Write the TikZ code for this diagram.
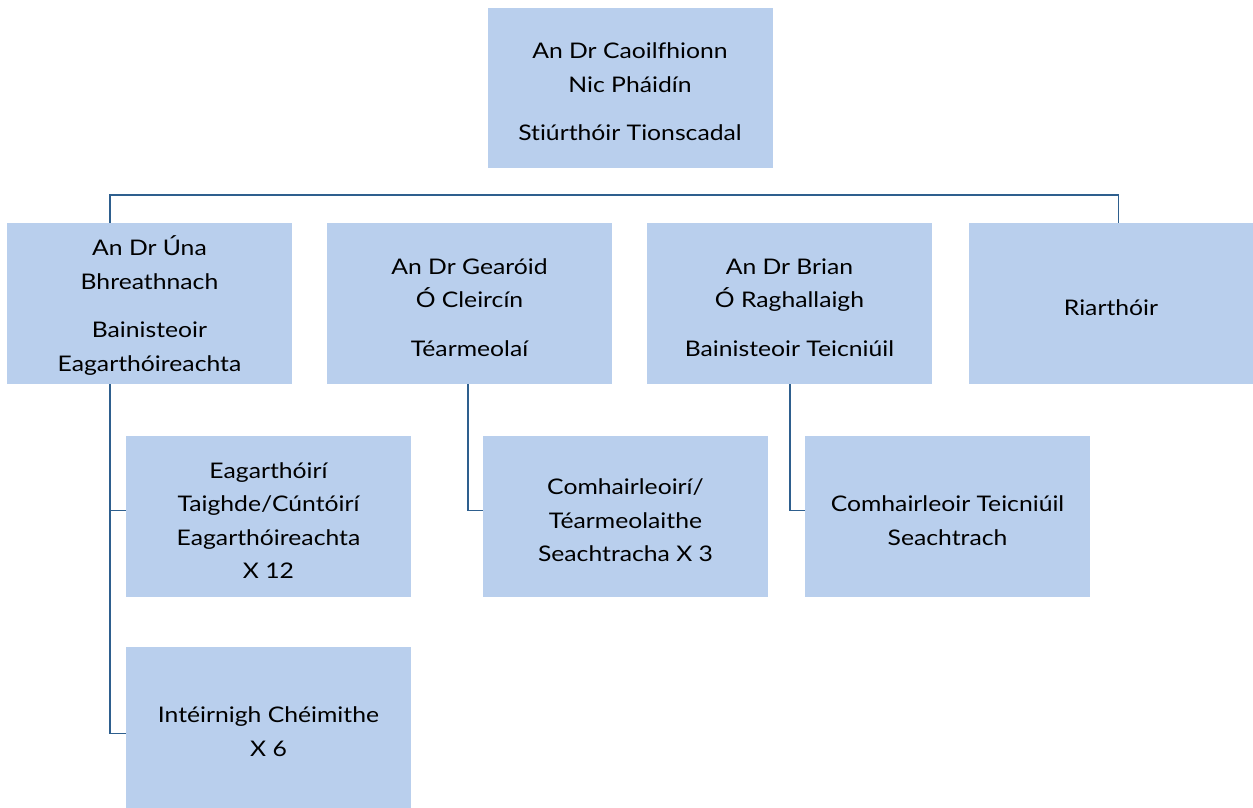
\documentclass[tikz,border=0pt]{standalone}
\usepackage{fontspec}
\setmainfont[FakeStretch=1.15,Ligatures=NoCommon]{Lato}
\usetikzlibrary{calc}
\definecolor{boxfill}{RGB}{185,207,237}
\definecolor{linecol}{RGB}{46,95,142}
\newcommand{\toprule}{\rule{0pt}{24pt}}
\begin{document}
\begin{tikzpicture}[x=1pt,y=-1pt,
  box/.style={fill=boxfill,draw=none,minimum width=285pt,minimum height=161pt,inner sep=0pt,align=center,
    font=\fontsize{21.5}{33.5}\selectfont,text=black},
  conn/.style={draw=linecol,line width=1.6pt}]
\useasboundingbox (0,0) rectangle (1253,807);
% top
\node[box,minimum height=160pt] (top) at (630,88) {\toprule An Dr Caoilfhionn\\Nic Pháidín\\[15pt]Stiúrthóir Tionscadal};
% row 2
\node[box] (b1) at (149.5,303.5) {\toprule An Dr Úna\\Bhreathnach\\[15pt]Bainisteoir\\Eagarthóireachta};
\node[box] (b2) at (469.5,303.5) {\toprule An Dr Gearóid\\Ó Cleircín\\[15pt]Téarmeolaí};
\node[box] (b3) at (789.5,303.5) {\toprule An Dr Brian\\Ó Raghallaigh\\[15pt]Bainisteoir Teicniúil};
\node[box] (b4) at (1111,303.5) {\toprule Riarthóir};
% row 3
\node[box] (c1) at (268.5,516.5) {\toprule Eagarthóirí\\Taighde/Cúntóirí\\Eagarthóireachta\\X 12};
\node[box] (c2) at (625.5,516.5) {\toprule Comhairleoirí/\\Téarmeolaithe\\Seachtracha X 3};
\node[box] (c3) at (947.5,516.5) {\toprule Comhairleoir Teicniúil\\Seachtrach};
% row 4
\node[box] (d1) at (268.5,727.5) {\toprule Intéirnigh Chéimithe\\X 6};
% connectors
\coordinate (bus) at (0,195);
\draw[conn] ($(top.south)+(-1,0)$) -- ($(top.south)+(-1,0)$ |- bus);
\draw[conn] ($(b1.north west)+(103,0)$) |- (bus -| {$(b4.north west)+(150,0)$}) -- ($(b4.north west)+(150,0)$);
\draw[conn] ($(b2.north west)+(141,0)$) -- ($(b2.north west)+(141,0)$ |- bus);
\draw[conn] ($(b3.north west)+(143,0)$) -- ($(b3.north west)+(143,0)$ |- bus);
\draw[conn] ($(b1.south west)+(103,0)$) |- ($(c1.west)+(0,-6)$);
\draw[conn] ($(b1.south west)+(103,0)$) |- ($(d1.west)+(0,6)$);
\draw[conn] ($(b2.south west)+(141,0)$) |- ($(c2.west)+(0,-6)$);
\draw[conn] ($(b3.south west)+(143,0)$) |- ($(c3.west)+(0,-6)$);
\end{tikzpicture}
\end{document}
